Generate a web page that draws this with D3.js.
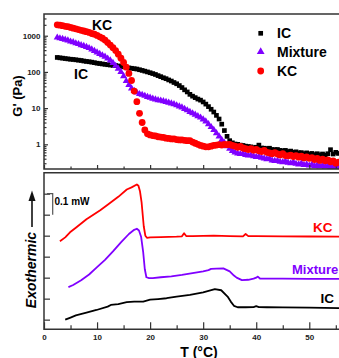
<!DOCTYPE html>
<html>
<head>
<meta charset="utf-8">
<script src="https://cdn.jsdelivr.net/npm/d3@7"></script>
<style>
  body { margin: 0; background: #fff; }
  svg { display: block; font-family: "Liberation Sans", Arial, sans-serif; font-weight: bold; }
</style>
</head>
<body>
<svg id="chart"></svg>
<script>
// temperatures of the rheology sweep (°C)
const temps = [
  2.5, 3, 3.5, 4, 4.5, 5, 5.5, 6, 6.5, 7,
  7.5, 8, 8.5, 9, 9.5, 10, 10.5, 11, 11.5, 12,
  12.5, 13, 13.5, 14, 14.5, 15, 15.5, 16, 16.5, 17,
  17.5, 18, 18.5, 19, 19.5, 20, 20.5, 21, 21.5, 22,
  22.5, 23, 23.5, 24, 24.5, 25, 25.5, 26, 26.5, 27,
  27.5, 28, 28.5, 29, 29.5, 30, 30.5, 31, 31.5, 32,
  32.5, 33, 33.5, 34, 34.5, 35, 35.5, 36, 36.5, 37,
  37.5, 38, 38.5, 39, 39.5, 40, 40.5, 41, 41.5, 42,
  42.5, 43, 43.5, 44, 44.5, 45, 45.5, 46, 46.5, 47,
  47.5, 48, 48.5, 49, 49.5, 50, 50.5, 51, 51.5, 52,
  52.5, 53, 53.5, 54, 54.5, 55, 55.5
];

// G' (Pa)
const gIC = [
  251, 245, 240, 234, 229, 224, 221, 216, 211, 207,
  200, 195, 191, 186, 180, 174, 170, 166, 162, 158,
  155, 151, 150, 146, 143, 138, 133, 129, 126, 123,
  120, 115, 110, 105, 100, 95, 90, 85, 79, 74,
  69, 65, 60, 56, 51, 47, 42, 37, 32, 28,
  24, 21.4, 19.5, 17.8, 16.6, 14.8, 12.9, 11.0, 9.3, 7.8,
  6.3, 5.0, 3.6, 2.4, 1.66, 1.26, 1.10, 1.02, 1.00, 0.95,
  0.93, 0.89, 0.87, 0.85, 0.81, 0.83, 0.95, 0.79, 0.78, 0.76,
  0.78, 0.72, 0.71, 0.72, 0.68, 0.66, 0.68, 0.63, 0.65, 0.60,
  0.62, 0.58, 0.59, 0.55, 0.58, 0.54, 0.56, 0.52, 0.55, 0.51,
  0.54, 0.50, 0.55, 0.71, 0.54, 0.60, 0.56
];
const gMix = [
  891, 851, 813, 776, 741, 692, 661, 617, 589, 550,
  525, 490, 457, 417, 380, 347, 316, 288, 263, 234,
  209, 178, 148, 123, 100, 76, 56, 44, 35, 30,
  27, 24.5, 23.4, 21.9, 20.4, 19.5, 18.2, 17.4, 16.6, 16.2,
  15.5, 14.8, 14.1, 13.5, 12.9, 12.0, 11.2, 10.5, 9.5, 8.7,
  7.9, 7.2, 6.6, 6.0, 5.5, 4.9, 4.3, 3.6, 3.0, 2.5,
  2.04, 1.66, 1.32, 1.10, 0.89, 0.76, 0.66, 0.60, 0.56, 0.54,
  0.55, 0.51, 0.49, 0.50, 0.47, 0.45, 0.46, 0.43, 0.41, 0.39,
  0.40, 0.36, 0.35, 0.355, 0.33, 0.32, 0.34, 0.31, 0.30, 0.32,
  0.29, 0.28, 0.30, 0.27, 0.28, 0.26, 0.28, 0.25, 0.27, 0.245,
  0.26, 0.24, 0.26, 0.235, 0.25, 0.235, 0.245
];
const gKC = [
  2000, 1950, 1900, 1820, 1780, 1700, 1620, 1550, 1480, 1410,
  1350, 1290, 1230, 1150, 1100, 1020, 933, 851, 759, 646,
  550, 468, 389, 309, 240, 182, 135, 91, 58, 29.5,
  15.1, 7.2, 4.0, 2.5, 1.95, 1.82, 1.74, 1.70, 1.62, 1.58,
  1.55, 1.48, 1.45, 1.41, 1.41, 1.35, 1.32, 1.32, 1.29, 1.26,
  1.26, 1.15, 1.07, 1.00, 0.93, 0.89, 0.85, 0.85, 0.89, 0.93,
  0.95, 0.98, 0.95, 1.00, 0.98, 1.00, 0.93, 0.89, 0.83, 0.87,
  0.79, 0.76, 0.72, 0.76, 0.69, 0.72, 0.66, 0.63, 0.68, 0.60,
  0.58, 0.55, 0.59, 0.54, 0.51, 0.55, 0.49, 0.48, 0.50, 0.46,
  0.49, 0.44, 0.47, 0.42, 0.45, 0.41, 0.43, 0.38, 0.41, 0.36,
  0.39, 0.35, 0.37, 0.33, 0.35, 0.30, 0.32
];

// DSC traces (T in °C, heat flow in units of 0.1 mW, curves offset)
const dscKC_T = [3.0, 4.0, 4.9, 6, 8, 10.6, 12, 14, 15.6, 16.5, 17.5, 17.8, 18.1, 18.4, 18.8, 19.1, 19.4, 20, 22, 25, 26, 26.4, 26.8, 28, 30, 32, 35, 37.5, 38, 38.5, 40, 45, 50, 55.6];
const dscKC_y = [3.73, 3.92, 4.16, 4.38, 4.78, 5.21, 5.47, 5.85, 6.2, 6.3, 6.44, 6.38, 6.1, 5.57, 4.45, 4.0, 3.9, 3.92, 3.93, 3.95, 3.97, 4.12, 3.98, 3.98, 3.99, 4.0, 3.98, 3.97, 4.08, 3.98, 3.98, 3.97, 3.96, 3.95];
const dscMix_T = [4.6, 5.5, 7, 8.5, 10, 11.5, 13, 14.5, 16, 17, 17.5, 17.9, 18.3, 18.7, 19.0, 19.3, 19.8, 20.5, 22, 24, 26, 28, 30, 31, 31.5, 32.5, 33.8, 35, 35.8, 36.3, 37.3, 38.5, 39.5, 40.0, 40.3, 40.7, 42, 45, 50, 55.6];
const dscMix_y = [1.55, 1.65, 1.88, 2.15, 2.5, 2.85, 3.25, 3.68, 4.08, 4.28, 4.33, 4.25, 3.95, 3.2, 2.4, 2.02, 1.98, 1.98, 2.02, 2.06, 2.13, 2.22, 2.3, 2.36, 2.42, 2.43, 2.44, 2.3, 2.1, 2.0, 1.88, 1.9, 1.95, 2.0, 2.05, 1.96, 1.95, 1.95, 1.94, 1.94];
const dscIC_T = [4.0, 5, 6, 8, 9.9, 12, 12.6, 14, 15.6, 17, 18.7, 20, 21.5, 23.1, 25, 27.5, 30, 32.2, 33.4, 34.6, 35.2, 35.8, 36.5, 38, 39.5, 40, 40.5, 42, 45, 50, 55.6];
const dscIC_y = [0.0, 0.1, 0.2, 0.33, 0.46, 0.62, 0.7, 0.74, 0.83, 0.86, 0.86, 0.95, 0.98, 1.02, 1.1, 1.18, 1.3, 1.45, 1.40, 1.1, 0.86, 0.66, 0.59, 0.59, 0.6, 0.64, 0.6, 0.59, 0.58, 0.57, 0.55];

const xMajor = [0, 10, 20, 30, 40, 50];
const xMinor = [5, 15, 25, 35, 45, 55];
const gMajor = [1, 10, 100, 1000];
const gMinor = [0.3, 0.4, 0.5, 0.6, 0.7, 0.8, 0.9, 2, 3, 4, 5, 6, 7, 8, 9,
  20, 30, 40, 50, 60, 70, 80, 90, 200, 300, 400, 500, 600, 700, 800, 900, 2000, 3000];
const dscTicks = [0, 1, 2, 3, 4, 5, 6];

const red = '#ff0000', purple = '#8000ff', black = '#000000', axisColor = '#333';

const width = 339, height = 358;
const left = 44, right = 339;
const top1 = 14, bottom1 = 169;
const top2 = 172.7, bottom2 = 329.3;

const svg = d3.select('#chart').attr('width', width).attr('height', height);

const x = d3.scaleLinear().domain([0, 55.6]).range([left, right]);
const yG = d3.scaleLog().domain([0.208, 3981]).range([bottom1, top1]);
const yD = d3.scaleLinear().domain([-0.46, 7]).range([bottom2, top2]);

function styleAxis(g) {
  g.select('.domain').remove();
  g.selectAll('line').attr('stroke', axisColor).attr('stroke-width', 1.2);
  g.selectAll('text').attr('fill', '#222').style('font-weight', 'bold');
}

// ---------- top panel: G' ----------
svg.append('clipPath').attr('id', 'clipTop')
  .append('rect').attr('x', left).attr('y', top1).attr('width', right - left).attr('height', bottom1 - top1);

const gTop = svg.append('g').attr('clip-path', 'url(#clipTop)');

const rows = (vals) => temps.map((t, i) => ({ t, g: vals[i] }));

gTop.selectAll('.ic').data(rows(gIC)).enter().append('path')
  .attr('d', d3.symbol(d3.symbolSquare, 22))
  .attr('transform', d => `translate(${x(d.t)},${yG(d.g)})`)
  .attr('fill', black);

gTop.selectAll('.mix').data(rows(gMix)).enter().append('path')
  .attr('d', d3.symbol(d3.symbolTriangle, 22))
  .attr('transform', d => `translate(${x(d.t)},${yG(d.g)})`)
  .attr('fill', purple);

gTop.selectAll('.kc').data(rows(gKC)).enter().append('circle')
  .attr('cx', d => x(d.t))
  .attr('cy', d => yG(d.g))
  .attr('r', 3.4)
  .attr('fill', red);

// axes of top panel
svg.append('g').attr('transform', `translate(0,${bottom1})`)
  .call(d3.axisBottom(x).tickValues(xMajor).tickSize(-4).tickFormat(''))
  .call(styleAxis);
svg.append('g').attr('transform', `translate(0,${bottom1})`)
  .call(d3.axisBottom(x).tickValues(xMinor).tickSize(-2.5).tickFormat(''))
  .call(styleAxis);
svg.append('g').attr('transform', `translate(${left},0)`)
  .call(d3.axisLeft(yG).tickValues(gMajor).tickSize(-4).tickPadding(3.5).tickFormat(d3.format('d')))
  .call(styleAxis)
  .selectAll('text').style('font-size', '8px');
svg.append('g').attr('transform', `translate(${left},0)`)
  .call(d3.axisLeft(yG).tickValues(gMinor).tickSize(-2.5).tickFormat(''))
  .call(styleAxis);

// frame
const frame = svg.append('g').attr('stroke', axisColor).attr('stroke-width', 1.5).attr('fill', 'none');
frame.append('path').attr('d', `M${right},${top1}H${left}V${bottom1}H${right}`);
frame.append('path').attr('d', `M${right},${top2}H${left}V${bottom2}H${right}`);

svg.append('text')
  .attr('transform', `translate(22,96) rotate(-90)`)
  .attr('text-anchor', 'middle')
  .style('font-size', '13px')
  .text("G' (Pa)");

svg.append('text').attr('x', 92).attr('y', 30).style('font-size', '14px').text('KC');
svg.append('text').attr('x', 74).attr('y', 79).style('font-size', '14px').text('IC');

// legend
const legend = [
  { name: 'IC', sym: d3.symbolSquare, size: 22, color: black, y: 33.3 },
  { name: 'Mixture', sym: d3.symbolTriangle, size: 26, color: purple, y: 51.7 },
  { name: 'KC', sym: d3.symbolCircle, size: 36, color: red, y: 71 }
];
const lg = svg.append('g');
legend.forEach(d => {
  lg.append('path').attr('d', d3.symbol(d.sym, d.size))
    .attr('transform', `translate(260.7,${d.y})`).attr('fill', d.color);
  lg.append('text').attr('x', 277).attr('y', d.y).attr('dy', '0.36em')
    .style('font-size', '14px').text(d.name);
});

// ---------- bottom panel: DSC ----------
const line = d3.line().x(d => x(d[0])).y(d => yD(d[1]));
const traces = [
  { T: dscKC_T, y: dscKC_y, color: red },
  { T: dscMix_T, y: dscMix_y, color: purple },
  { T: dscIC_T, y: dscIC_y, color: black }
];
traces.forEach(tr => {
  svg.append('path')
    .datum(tr.T.map((t, i) => [t, tr.y[i]]))
    .attr('d', line)
    .attr('fill', 'none')
    .attr('stroke', tr.color)
    .attr('stroke-width', 1.8)
    .attr('stroke-linejoin', 'round');
});

svg.append('g').attr('transform', `translate(0,${bottom2})`)
  .call(d3.axisBottom(x).tickValues(xMajor).tickSize(-7).tickPadding(5).tickFormat(d3.format('d')))
  .call(styleAxis)
  .selectAll('text').style('font-size', '8px');
svg.append('g').attr('transform', `translate(0,${bottom2})`)
  .call(d3.axisBottom(x).tickValues(xMinor).tickSize(-4).tickFormat(''))
  .call(styleAxis);
svg.append('g').attr('transform', `translate(${left},0)`)
  .call(d3.axisLeft(yD).tickValues(dscTicks).tickSize(-6).tickFormat(''))
  .call(styleAxis);

// 0.1 mW scale bar
svg.append('path')
  .attr('d', `M47,${yD(6)}H52.7V${yD(5)}`)
  .attr('fill', 'none').attr('stroke', '#555').attr('stroke-width', 1.2);
svg.append('text').attr('x', 54.5).attr('y', yD(6) + 11).style('font-size', '10px').text('0.1 mW');

// Exothermic label with arrow
svg.append('text')
  .attr('transform', `translate(35.5,270) rotate(-90)`)
  .attr('text-anchor', 'middle')
  .style('font-size', '14px').style('font-style', 'italic')
  .text('Exothermic');
svg.append('line').attr('x1', 32).attr('x2', 32).attr('y1', 227).attr('y2', 200)
  .attr('stroke', '#111').attr('stroke-width', 1.6);
svg.append('path').attr('d', 'M32,190.5L35.5,201L28.5,201Z').attr('fill', '#111');

svg.append('text').attr('x', 313).attr('y', 232).attr('fill', red).style('font-size', '13.5px').text('KC');
svg.append('text').attr('x', 292).attr('y', 274).attr('fill', purple).style('font-size', '13px').text('Mixture');
svg.append('text').attr('x', 320.5).attr('y', 303).attr('fill', black).style('font-size', '13.5px').text('IC');

svg.append('text').attr('x', 199).attr('y', 356.5).attr('text-anchor', 'middle')
  .style('font-size', '14px').text('T (°C)');
</script>
</body>
</html>
